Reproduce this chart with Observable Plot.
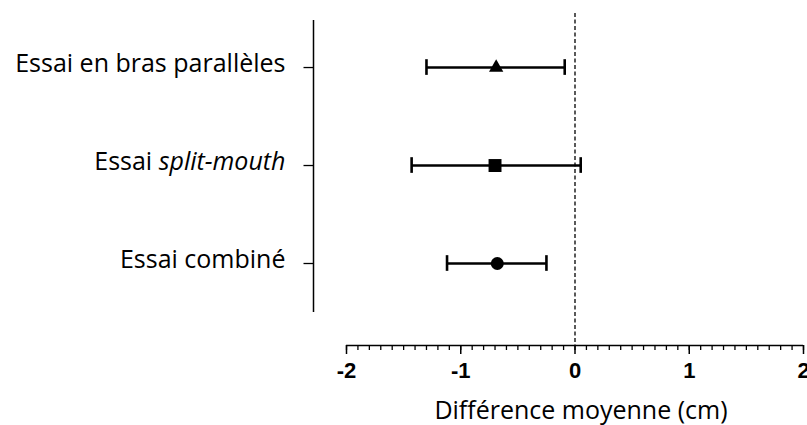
<!DOCTYPE html>
<html>
<head>
<meta charset="utf-8">
<script src="https://cdn.jsdelivr.net/npm/d3@7"></script>
<script src="https://cdn.jsdelivr.net/npm/@observablehq/plot@0.6"></script>
<style>
  html, body { margin: 0; padding: 0; background: #fff; }
  #chart svg { display: block; }
</style>
</head>
<body>
<div id="chart"></div>
<script>
const categories = ["Essai en bras parallèles", "Essai split-mouth", "Essai combiné"];
const means = [-0.69, -0.70, -0.68];
const lower = [-1.30, -1.43, -1.12];
const upper = [-0.09, 0.05, -0.25];
const symbols = ["triangle", "square", "circle"];
const xTicks = [-2, -1, 0, 1, 2];
const xMinorTicks = d3.range(-20, 21).map(d => d / 10);
const xLabel = "Différence moyenne (cm)";

const rows = categories.map((c, i) => ({i, category: c, mean: means[i], lo: lower[i], hi: upper[i], symbol: symbols[i]}));

const xDomain = [-2, 2];
const yDomain = [-0.48, 2.5];
const labelFont = "Open Sans, sans-serif";
const symbolR = {triangle: 5.3, square: 7.3, circle: 6.5};

const marks = [
  // y axis line (offset left of the x range)
  Plot.ruleX([xDomain[0]], {dx: -33, stroke: "#000", strokeWidth: 1.5}),
  // x axis baseline
  Plot.ruleY([yDomain[1]], {dy: 33, stroke: "#000", strokeWidth: 1.5}),
  // zero reference line
  Plot.ruleX([0], {stroke: "#000", strokeWidth: 1.3, strokeDasharray: "4,2.5", insetTop: -7, insetBottom: -33}),
  // minor ticks
  Plot.axisX({ticks: xMinorTicks, tickSize: 5, tickFormat: () => "", dy: 33, strokeWidth: 1.3, label: null}),
  // major ticks + labels
  Plot.axisX({ticks: xTicks, tickSize: 9, tickPadding: 8, dy: 33, strokeWidth: 1.5, label: null,
    fontSize: 22, fontWeight: "bold", fontFamily: "Liberation Sans, Arial, sans-serif", tickFormat: d => String(d)}),
  // y axis ticks
  Plot.axisY({ticks: [0, 1, 2], tickFormat: () => "", dx: -33, tickSize: 9.5, strokeWidth: 1.3, label: null}),
  // y axis labels
  Plot.axisY({ticks: [0, 1, 2], tickFormat: i => categories[i], dx: -33, dy: -3.5, tickSize: 0, tickPadding: 28,
    fontSize: 25, fontFamily: labelFont, label: null}),
  // error bars
  Plot.ruleY(rows, {y: "i", x1: "lo", x2: "hi", stroke: "#000", strokeWidth: 2.6}),
  Plot.ruleX(rows, {x: "lo", y1: d => d.i - 0.08, y2: d => d.i + 0.08, stroke: "#000", strokeWidth: 2.6}),
  Plot.ruleX(rows, {x: "hi", y1: d => d.i - 0.08, y2: d => d.i + 0.08, stroke: "#000", strokeWidth: 2.6}),
  // markers
  ...rows.map(d => Plot.dot([d], {x: "mean", y: "i", symbol: d.symbol, r: symbolR[d.symbol], fill: "#000", stroke: "none"})),
  // x axis title
  Plot.text([xLabel], {text: d => d, frameAnchor: "bottom", lineAnchor: "top", dy: 89, dx: 6,
    fontSize: 25, fontFamily: labelFont, fill: "#000"})
];

const chart = Plot.plot({
  width: 807,
  height: 425,
  marginLeft: 346,
  marginRight: 4,
  marginTop: 20,
  marginBottom: 113,
  style: {background: "#fff", color: "#000", overflow: "visible"},
  x: {domain: xDomain, axis: null},
  y: {domain: yDomain, reverse: true, axis: null},
  marks
});

// italicise "split-mouth" in its tick label
d3.select(chart).selectAll("text").each(function () {
  const t = d3.select(this);
  if (t.text() === "Essai split-mouth") {
    t.text("");
    t.append("tspan").text("Essai ");
    t.append("tspan").attr("font-style", "italic").text("split-mouth");
  }
});

document.getElementById("chart").appendChild(chart);
</script>
</body>
</html>
